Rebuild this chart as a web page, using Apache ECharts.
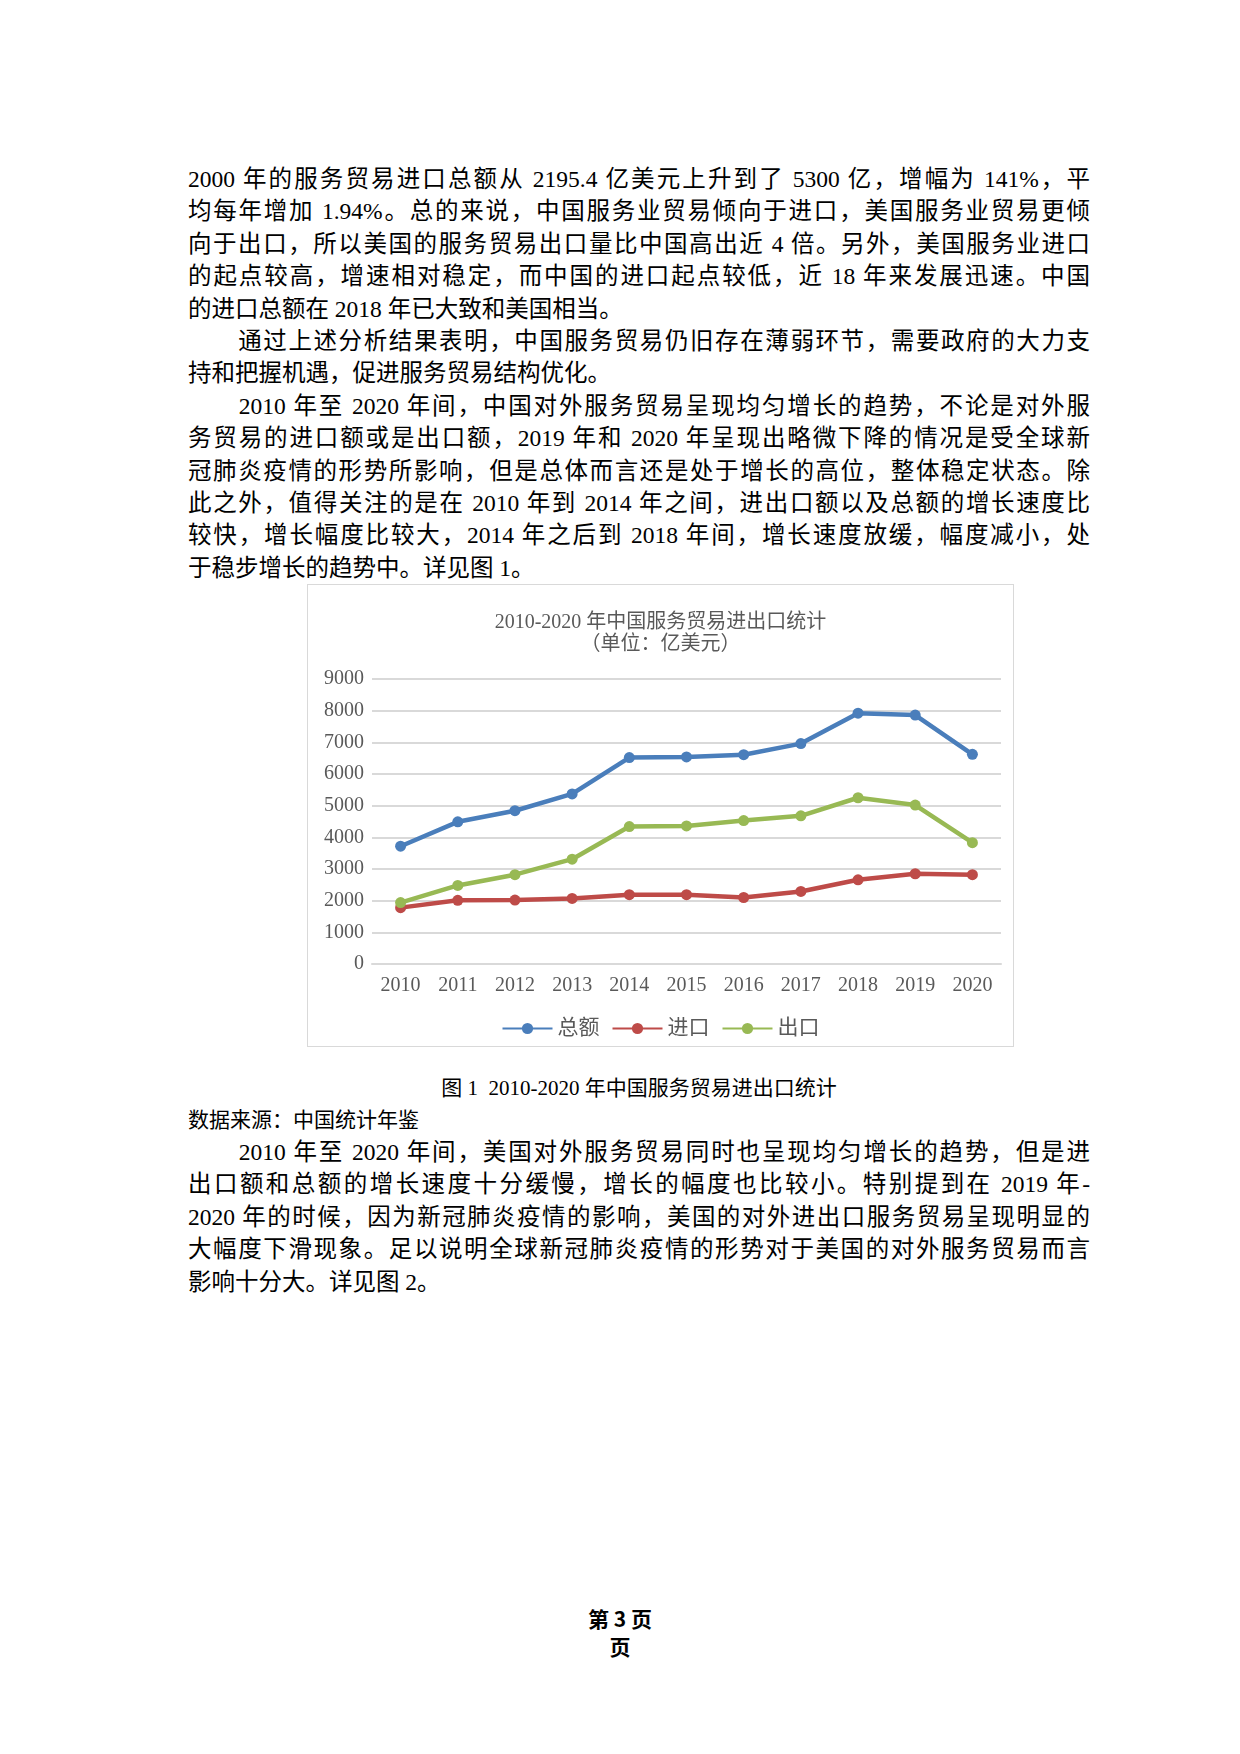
<!DOCTYPE html>
<html><head><meta charset="utf-8">
<script src="https://cdn.jsdelivr.net/npm/echarts@6/dist/echarts.min.js"></script>
<style>
body{margin:0;width:1240px;height:1754px;background:#fff;position:relative;font-family:"Liberation Serif","Noto Sans CJK SC",serif;color:#000}
.l{position:absolute;left:188px;width:902px;font-size:23.5px;line-height:30px;white-space:nowrap;text-align:justify;text-align-last:justify}
.e{text-align-last:left}
#container{position:absolute;left:307px;top:584px;width:705px;height:461px;border:1px solid #d9d9d9}
</style></head><body>
<div id="text"></div>
<div id="container"></div>
<div class="l e" style="top:1073px;left:188px;width:902px;text-align:center;text-align-last:center;font-size:21px">图 1&nbsp; 2010-2020 年中国服务贸易进出口统计</div>
<div class="l e" style="top:1105px;font-size:21px">数据来源：中国统计年鉴</div>
<div style="position:absolute;left:0;width:1240px;top:1604px;text-align:center;font-weight:bold;font-size:21px;line-height:28px;font-family:'Noto Sans CJK SC'">第 3 页<br>页</div>
<script>
var lines1 = [
 ['2000 年的服务贸易进口总额从 2195.4 亿美元上升到了 5300 亿，增幅为 141%，平',0],
 ['均每年增加 1.94%。总的来说，中国服务业贸易倾向于进口，美国服务业贸易更倾',0],
 ['向于出口，所以美国的服务贸易出口量比中国高出近 4 倍。另外，美国服务业进口',0],
 ['的起点较高，增速相对稳定，而中国的进口起点较低，近 18 年来发展迅速。中国',0],
 ['的进口总额在 2018 年已大致和美国相当。',1],
 ['\u3000\u3000通过上述分析结果表明，中国服务贸易仍旧存在薄弱环节，需要政府的大力支',0],
 ['持和把握机遇，促进服务贸易结构优化。',1],
 ['\u3000\u30002010 年至 2020 年间，中国对外服务贸易呈现均匀增长的趋势，不论是对外服',0],
 ['务贸易的进口额或是出口额，2019 年和 2020 年呈现出略微下降的情况是受全球新',0],
 ['冠肺炎疫情的形势所影响，但是总体而言还是处于增长的高位，整体稳定状态。除',0],
 ['此之外，值得关注的是在 2010 年到 2014 年之间，进出口额以及总额的增长速度比',0],
 ['较快，增长幅度比较大，2014 年之后到 2018 年间，增长速度放缓，幅度减小，处',0],
 ['于稳步增长的趋势中。详见图 1。',1]
];
var lines2 = [
 ['\u3000\u30002010 年至 2020 年间，美国对外服务贸易同时也呈现均匀增长的趋势，但是进',0],
 ['出口额和总额的增长速度十分缓慢，增长的幅度也比较小。特别提到在 2019 年-',0],
 ['2020 年的时候，因为新冠肺炎疫情的影响，美国的对外进出口服务贸易呈现明显的',0],
 ['大幅度下滑现象。足以说明全球新冠肺炎疫情的形势对于美国的对外服务贸易而言',0],
 ['影响十分大。详见图 2。',1]
];
var html = '';
function put(arr, top) {
    arr.forEach(function (l, i) {
        html += '<div class="l' + (l[1] ? ' e' : '') + '" style="top:' + (top + i * 32.4) + 'px">' + l[0] + '</div>';
    });
}
put(lines1, 164);
put(lines2, 1137);
document.getElementById('text').innerHTML = html;

var years = ['2010','2011','2012','2013','2014','2015','2016','2017','2018','2019','2020'];
var total = [3720,4490,4840,5370,6520,6540,6610,6960,7920,7860,6620];
var imports = [1780,2010,2020,2070,2190,2190,2100,2290,2660,2850,2820];
var exports = [1940,2480,2820,3310,4340,4360,4530,4680,5250,5020,3830];

var myChart = echarts.init(document.getElementById('container'));
var font = '"Liberation Serif","Noto Sans CJK SC",serif';
function s(name, data, color) {
    return {name: name, type: 'line', data: data, symbol: 'circle', symbolSize: 11,
        lineStyle: {width: 4.5, color: color}, itemStyle: {color: color}};
}
var option = {
    animation: false,
    textStyle: {fontFamily: font},
    title: {text: '2010-2020 年中国服务贸易进出口统计\n（单位：亿美元）', left: 'center', top: 22,
        textStyle: {fontSize: 20, fontWeight: 'normal', color: '#595959', lineHeight: 22, fontFamily: font}},
    grid: {left: 64, right: 12, top: 94, bottom: 82},
    legend: {bottom: 2, itemWidth: 50, itemHeight: 14, itemGap: 12,
        textStyle: {fontSize: 21, color: '#595959', fontFamily: font}},
    xAxis: {type: 'category', data: years, boundaryGap: true,
        axisLine: {lineStyle: {color: '#d9d9d9', width: 2}}, axisTick: {show: false},
        axisLabel: {fontSize: 20, color: '#595959', margin: 12}},
    yAxis: {type: 'value', min: 0, max: 9000, interval: 1000,
        axisLabel: {fontSize: 20, color: '#595959', margin: 8, formatter: function (v) { return String(v); }},
        splitLine: {lineStyle: {color: '#d9d9d9', width: 2}}},
    series: [s('总额', total, '#4a7ebb'), s('进口', imports, '#be4b48'), s('出口', exports, '#98b954')]
};
myChart.setOption(option);
</script>
</body></html>
